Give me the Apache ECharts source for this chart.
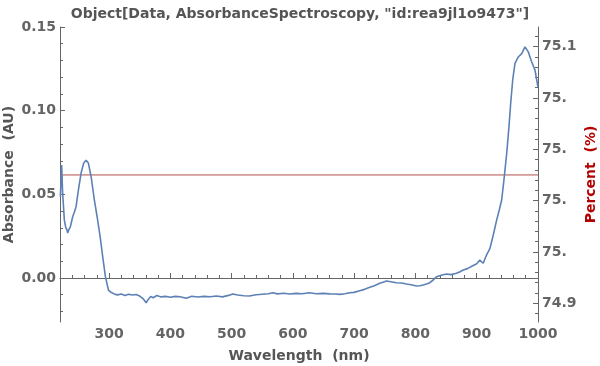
<!DOCTYPE html>
<html>
<head>
<meta charset="utf-8">
<script src="https://cdn.jsdelivr.net/npm/echarts@6/dist/echarts.min.js"></script>
<style>html,body{margin:0;padding:0;background:#fff;}#c{width:600px;height:366px;}</style>
</head>
<body>
<div id="c"></div>
<script>
// ---- data ----
const wavelength = [220.6,222.7,224.3,227.1,229.5,231.5,232.5,234.5,236.9,240.7,243.5,246.2,250,254.4,258.7,262.6,266.3,270.8,276.1,280.6,285.5,289.7,294.1,299,303,306,310,314,320,326,332,338,344,350,356,360.6,364,368,372,378,385,392,400,408,416,426,435,445,455,465,475,485,495,502,510,520,529,540,550,560,567,575,585,595,605,615,627,638,649,660,670,676.5,685,692.8,700,709,717,725.5,733,741.8,748,752.8,760,769,777,785.5,793,801.8,807,812.6,818,823.5,829,834.5,842,850.8,858,867,872,878,885,892,900,905,910.6,916,921.6,927,932.5,936.8,940.7,944.4,948.9,952.6,955.4,958.7,962.4,967.8,973.4,978.8,984.2,989.7,995.1,1000];
const absorbance = [0.0485,0.0675,0.0507,0.0346,0.0300,0.0287,0.0269,0.0290,0.0306,0.0366,0.0395,0.0426,0.0525,0.0627,0.0687,0.0704,0.0687,0.0605,0.0466,0.0366,0.0247,0.0127,0.0008,-0.0072,-0.0085,-0.0091,-0.0098,-0.0101,-0.0096,-0.0104,-0.0097,-0.0102,-0.0099,-0.0108,-0.0125,-0.0148,-0.0128,-0.0110,-0.0118,-0.0105,-0.0113,-0.0110,-0.0115,-0.0110,-0.0112,-0.0121,-0.0109,-0.0114,-0.0110,-0.0112,-0.0108,-0.0113,-0.0104,-0.0096,-0.0102,-0.0106,-0.0108,-0.0100,-0.0097,-0.0094,-0.0088,-0.0095,-0.0091,-0.0096,-0.0092,-0.0094,-0.0088,-0.0094,-0.0092,-0.0095,-0.0096,-0.0098,-0.0094,-0.0088,-0.0086,-0.0076,-0.0068,-0.0056,-0.0046,-0.0032,-0.0024,-0.0018,-0.0022,-0.0028,-0.0030,-0.0036,-0.0040,-0.0048,-0.0046,-0.0042,-0.0036,-0.0028,-0.0012,0.0008,0.0016,0.0024,0.0020,0.0028,0.0036,0.0048,0.0056,0.0070,0.0085,0.0107,0.0088,0.0137,0.0177,0.0257,0.0346,0.0406,0.0466,0.0585,0.0744,0.0903,0.1043,0.1182,0.1282,0.1321,0.1341,0.1381,0.1351,0.1291,0.1242,0.1140];
const percentWavelength = [220, 1000];
const percentValues = [75.0, 75.0];

const xTicks = [300,400,500,600,700,800,900,1000];
const xTickLabels = ["300","400","500","600","700","800","900","1000"];
const xMinorTicks = [240,260,280,320,340,360,380,420,440,460,480,520,540,560,580,620,640,660,680,720,740,760,780,820,840,860,880,920,940,960,980];
const yTicks = [0.00,0.05,0.10,0.15];
const yTickLabels = ["0.00","0.05","0.10","0.15"];
const yMinorTicks = [-0.02,-0.01,0.01,0.02,0.03,0.04,0.06,0.07,0.08,0.09,0.11,0.12,0.13,0.14];
const pTicks = [74.9,74.94,74.98,75.02,75.06,75.1];
const pTickLabels = ["74.9","75.","75.","75.","75.","75.1"];
const pMinorTicks = [74.892,74.908,74.916,74.924,74.932,74.948,74.956,74.964,74.972,74.988,74.996,75.004,75.012,75.028,75.036,75.044,75.052,75.068,75.076,75.084,75.092,75.108];

const titleText = 'Object[Data, AbsorbanceSpectroscopy, "id:rea9jl1o9473"]';

// ---- chart ----
const FONT = 'DejaVu Sans';
const FS = 14;
const axisGray = '#666666';
const labelGray = '#646464';
const X_MIN = 220, X_MAX = 1000, Y_MIN = -0.0263, Y_MAX = 0.15, P_MIN = 74.8854, P_MAX = 75.1153;

function lookup(ticks, labels, tol) {
  return function (v) { const i = ticks.findIndex(t => Math.abs(t - v) < tol); return i >= 0 ? labels[i] : ''; };
}
function majorAxisCommon(extra) {
  return Object.assign({
    type: 'value',
    splitLine: { show: false },
    nameMoveOverlap: false,
    axisLine: { show: true, lineStyle: { color: axisGray, width: 1 } },
    nameTextStyle: { fontFamily: FONT, fontWeight: 'bold', fontSize: FS, color: '#555555' }
  }, extra);
}
function minorAxis(extra, ticks) {
  return Object.assign({
    type: 'value',
    splitLine: { show: false },
    axisLine: { show: false },
    axisLabel: { show: false },
    axisTick: { show: true, inside: true, length: 3, customValues: ticks, lineStyle: { color: axisGray } }
  }, extra);
}

const chart = echarts.init(document.getElementById('c'), null, { renderer: 'canvas' });
chart.setOption({
  animation: false,
  backgroundColor: '#ffffff',
  title: {
    text: titleText, left: 'center', top: 2,
    textStyle: { fontFamily: FONT, fontWeight: 'bold', fontSize: FS, color: '#555555' }
  },
  grid: { left: 60, right: 62, top: 27, bottom: 44, containLabel: false, outerBoundsMode: 'none' },
  xAxis: [
    majorAxisCommon({
      min: X_MIN, max: X_MAX, position: 'bottom',
      name: 'Wavelength  (nm)', nameLocation: 'middle', nameGap: 27,
      axisTick: { show: true, inside: true, length: 5, customValues: xTicks, lineStyle: { color: axisGray } },
      axisLabel: { customValues: xTicks, margin: 5, fontFamily: FONT, fontWeight: 'bold', fontSize: FS, color: labelGray,
        formatter: lookup(xTicks, xTickLabels, 1e-6) }
    }),
    minorAxis({ min: X_MIN, max: X_MAX, position: 'bottom' }, xMinorTicks)
  ],
  yAxis: [
    majorAxisCommon({
      min: Y_MIN, max: Y_MAX, position: 'left',
      name: 'Absorbance  (AU)', nameLocation: 'middle', nameGap: 44,
      axisTick: { show: true, inside: true, length: 5, customValues: yTicks, lineStyle: { color: axisGray } },
      axisLabel: { customValues: yTicks, margin: 4, fontFamily: FONT, fontWeight: 'bold', fontSize: FS, color: labelGray,
        formatter: lookup(yTicks, yTickLabels, 1e-9) }
    }),
    minorAxis({ min: Y_MIN, max: Y_MAX, position: 'left' }, yMinorTicks),
    majorAxisCommon({
      min: P_MIN, max: P_MAX, position: 'right',
      name: 'Percent  (%)', nameLocation: 'middle', nameGap: 46,
      nameTextStyle: { fontFamily: FONT, fontWeight: 'bold', fontSize: FS, color: '#b30000' },
      axisTick: { show: true, inside: true, length: 5, customValues: pTicks, lineStyle: { color: axisGray } },
      axisLabel: { customValues: pTicks, margin: 4, fontFamily: FONT, fontWeight: 'bold', fontSize: FS, color: labelGray,
        formatter: lookup(pTicks, pTickLabels, 1e-6) }
    }),
    minorAxis({ min: P_MIN, max: P_MAX, position: 'right' }, pMinorTicks)
  ],
  series: [
    {
      type: 'line', xAxisIndex: 0, yAxisIndex: 2,
      data: percentWavelength.map((w, i) => [w, percentValues[i]]),
      showSymbol: false, lineStyle: { color: '#b0504e', width: 1 }, silent: true
    },
    {
      type: 'line', xAxisIndex: 0, yAxisIndex: 0,
      data: wavelength.map((w, i) => [w, absorbance[i]]),
      showSymbol: false, lineStyle: { color: '#5e81b5', width: 1.6 }, silent: true
    }
  ]
});
</script>
</body>
</html>
